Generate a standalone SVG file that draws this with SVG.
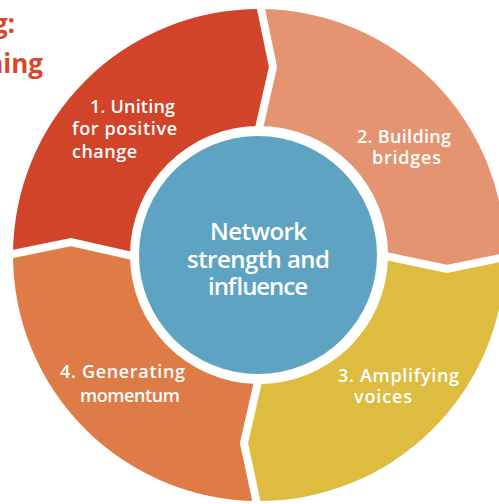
<svg xmlns="http://www.w3.org/2000/svg" width="499" height="504" viewBox="0 0 499 504">
  <style>
    .lbl { font-family: "Open Sans", "Liberation Sans", sans-serif; font-weight: 600; font-size: 18px; fill: #ffffff; }
    .ctr { font-family: "Open Sans", "Liberation Sans", sans-serif; font-weight: 600; font-size: 24px; fill: #ffffff; }
    .ttl { font-family: "Open Sans", "Liberation Sans", sans-serif; font-weight: 700; font-size: 26px; fill: #d8462b; }
    .div { fill: none; stroke: #ffffff; stroke-width: 8; stroke-linejoin: miter; stroke-linecap: square; }
  </style>
  <rect width="499" height="504" fill="#ffffff"/>
  <g id="title">
    <text class="ttl" x="15" y="33" text-anchor="end">g:</text>
    <text class="ttl" x="43" y="73" text-anchor="end">ning</text>
  </g>
  <g id="seg1">
    <path d="M13,255 A246,246 0 0 1 260,9 L273,67 L260,126 A129,129 0 0 0 130,255 L71,242 Z" fill="#d2442a"/>
    <text class="lbl" x="90" y="113" textLength="85" lengthAdjust="spacing">1. Uniting</text>
    <text class="lbl" x="72" y="135" textLength="105" lengthAdjust="spacing">for positive</text>
    <text class="lbl" x="72" y="158" textLength="65" lengthAdjust="spacing">change</text>
  </g>
  <g id="seg2">
    <path d="M260,9 A246,246 0 0 1 505,257 L447,269 L388,257 A129,129 0 0 0 260,126 L273,67 Z" fill="#e59471"/>
    <text class="lbl" x="357" y="143" textLength="94" lengthAdjust="spacing">2. Building</text>
    <text class="lbl" x="372" y="164" textLength="69" lengthAdjust="spacing">bridges</text>
  </g>
  <g id="seg3">
    <path d="M505,257 A246,246 0 0 1 257,501 L244,443 L257,384 A129,129 0 0 0 388,257 L447,269 Z" fill="#debc3f"/>
    <text class="lbl" x="338" y="382" textLength="121" lengthAdjust="spacing">3. Amplifying</text>
    <text class="lbl" x="354" y="403" textLength="58" lengthAdjust="spacing">voices</text>
  </g>
  <g id="seg4">
    <path d="M257,501 A246,246 0 0 1 13,255 L71,242 L130,255 A129,129 0 0 0 257,384 L244,443 Z" fill="#df7b46"/>
    <text class="lbl" x="60" y="378" textLength="125" lengthAdjust="spacing">4. Generating</text>
    <text class="lbl" x="80" y="402" textLength="100" lengthAdjust="spacing">momentum</text>
  </g>
  <g id="connectors">
    <polyline class="div" points="260,4 273,67 260,124"/>
    <polyline class="div" points="390,257 447,269 505,257"/>
    <polyline class="div" points="257,386 244,443 257,504"/>
    <polyline class="div" points="8,255 71,242 128,255"/>
  </g>
  <g id="center">
    <circle cx="258" cy="255" r="119" fill="#5fa3c3"/>
    <text class="ctr" x="210" y="240" textLength="97" lengthAdjust="spacing">Network</text>
    <text class="ctr" x="187" y="268" textLength="143" lengthAdjust="spacing">strength and</text>
    <text class="ctr" x="208" y="295" textLength="100" lengthAdjust="spacing">influence</text>
  </g>
</svg>
